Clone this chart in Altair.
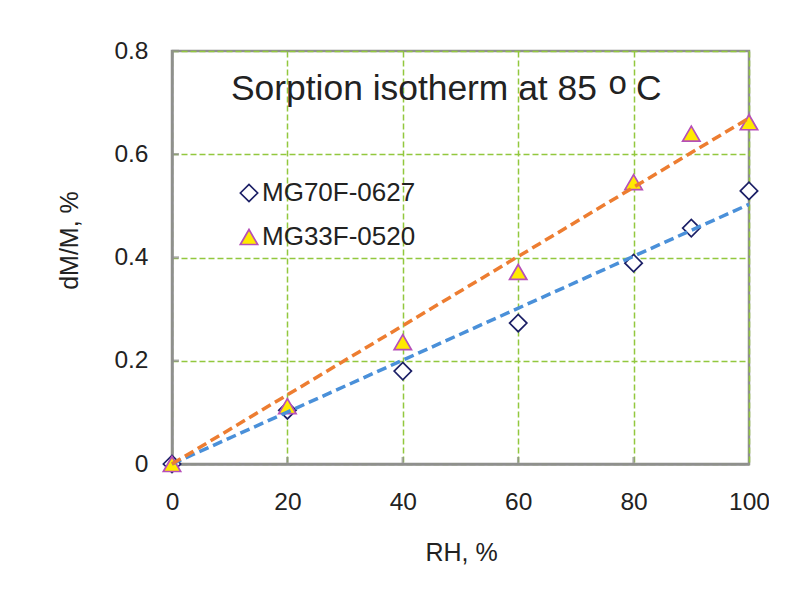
import altair as alt
import pandas as pd

# ---- data ----
series_names = ["MG70F-0627", "MG33F-0520"]
rh_mg70 = [0, 20, 40, 60, 80, 90, 100]
dm_mg70 = [0.0, 0.104, 0.180, 0.273, 0.389, 0.457, 0.529]
rh_mg33 = [0, 20, 40, 60, 80, 90, 100]
dm_mg33 = [0.0, 0.112, 0.236, 0.372, 0.546, 0.640, 0.662]
trend_rh = [0, 100]
trend_mg70 = [0.0, 0.503]
trend_mg33 = [0.0, 0.670]
x_ticks = [0, 20, 40, 60, 80, 100]
y_ticks = [0, 0.2, 0.4, 0.6, 0.8]
title_main = "Sorption isotherm at 85"
title_sup = "o"
title_unit = "C"

FONT = "Liberation Sans"
W, H = 577, 413

pts = pd.DataFrame(
    {"rh": rh_mg70 + rh_mg33,
     "dm": dm_mg70 + dm_mg33,
     "series": [series_names[0]] * len(rh_mg70) + [series_names[1]] * len(rh_mg33)}
)
trend = pd.DataFrame(
    {"rh": trend_rh + trend_rh,
     "dm": trend_mg70 + trend_mg33,
     "series": [series_names[0]] * 2 + [series_names[1]] * 2}
)
xt = pd.DataFrame({"t": x_ticks[1:-1]})
yt = pd.DataFrame({"t": y_ticks[1:]})

xscale = alt.Scale(domain=[0, 100], nice=False, zero=False)
yscale = alt.Scale(domain=[0, 0.8], nice=False, zero=False)

xaxis = alt.Axis(values=x_ticks, format="d", title="RH, %", grid=True, labelFlush=False,
                 ticks=False, tickSize=0, labelPadding=45, labelBaseline="alphabetic",
                 titleX=289, titleY=96, titleBaseline="alphabetic", titleAlign="center")
yaxis = alt.Axis(values=y_ticks, format=".1~f", title="dM/M, %", grid=True, labelFlush=False,
                 ticks=False, tickSize=0, labelPadding=24, labelBaseline="middle",
                 titleX=-95, titleY=189, titleAngle=-90, titleBaseline="alphabetic",
                 titleAlign="center")

sel_dom = series_names
points = alt.Chart(pts).mark_point(filled=True, strokeWidth=1.7, opacity=1).encode(
    x=alt.X("rh:Q", scale=xscale, axis=xaxis),
    y=alt.Y("dm:Q", scale=yscale, axis=yaxis),
    shape=alt.Shape("series:N", scale=alt.Scale(domain=sel_dom, range=["diamond", "triangle-up"]),
                    legend=alt.Legend(title=None, orient="none", legendX=64, legendY=129,
                                      labelFontSize=26, labelFont=FONT, labelColor="#222222",
                                      symbolSize=300, symbolStrokeWidth=1.7, rowPadding=18,
                                      labelOffset=0, padding=0)),
    fill=alt.Fill("series:N", scale=alt.Scale(domain=sel_dom, range=["#ffffff", "#ffea00"])),
    stroke=alt.Stroke("series:N", scale=alt.Scale(domain=sel_dom, range=["#1b1f66", "#b64fb8"])),
    order=alt.Order("series:N", sort="descending"),
    size=alt.value(300),
)

lines = alt.Chart(trend).mark_line(strokeWidth=3.5, strokeDash=[10, 5]).encode(
    x=alt.X("rh:Q", scale=xscale),
    y=alt.Y("dm:Q", scale=yscale),
    detail="series:N",
    color=alt.Color("series:N", scale=alt.Scale(domain=sel_dom, range=["#4a90d9", "#ed7d31"]),
                    legend=None),
)

xticks_layer = alt.Chart(xt).mark_tick(orient="vertical", size=7, thickness=2.5, color="#8f8f8f").encode(
    x=alt.X("t:Q", scale=xscale), y=alt.value(H - 3.5))
yticks_layer = alt.Chart(yt).mark_tick(orient="horizontal", size=7, thickness=2.5, color="#8f8f8f").encode(
    y=alt.Y("t:Q", scale=yscale), x=alt.value(3.5))

one = pd.DataFrame({"a": [0]})
t1 = alt.Chart(one).mark_text(text=title_main, font=FONT, fontSize=35.4, align="left",
                              baseline="alphabetic", color="#222222").encode(
    x=alt.value(59), y=alt.value(49))
t2 = alt.Chart(one).mark_text(text=title_sup, font=FONT, fontSize=33, align="left",
                              baseline="alphabetic", color="#222222").encode(
    x=alt.value(436.5), y=alt.value(42.5))
t3 = alt.Chart(one).mark_text(text=title_unit, font=FONT, fontSize=35.4, align="left",
                              baseline="alphabetic", color="#222222").encode(
    x=alt.value(464), y=alt.value(49))

chart = alt.layer(points, yticks_layer, xticks_layer, lines, t1, t2, t3).resolve_scale(
    color="independent"
).properties(
    width=W, height=H,
    autosize=alt.AutoSizeParams(type="none"),
    padding={"left": 164, "top": 43, "right": 20, "bottom": 112},
    background="white",
).configure_view(
    stroke="#8f8f8f", strokeWidth=2.5
).configure_axis(
    labelFont=FONT, labelFontSize=24.5, labelColor="#222222",
    titleFont=FONT, titleFontSize=25, titleColor="#222222", titleFontWeight="normal",
    domainColor="#8f8f8f", domainWidth=2.5,
    gridColor="#92c83e", gridWidth=1.5, gridDash=[6, 3], gridOpacity=1,
)

chart.save("out.html", embed_options={"renderer": "svg", "actions": False})
